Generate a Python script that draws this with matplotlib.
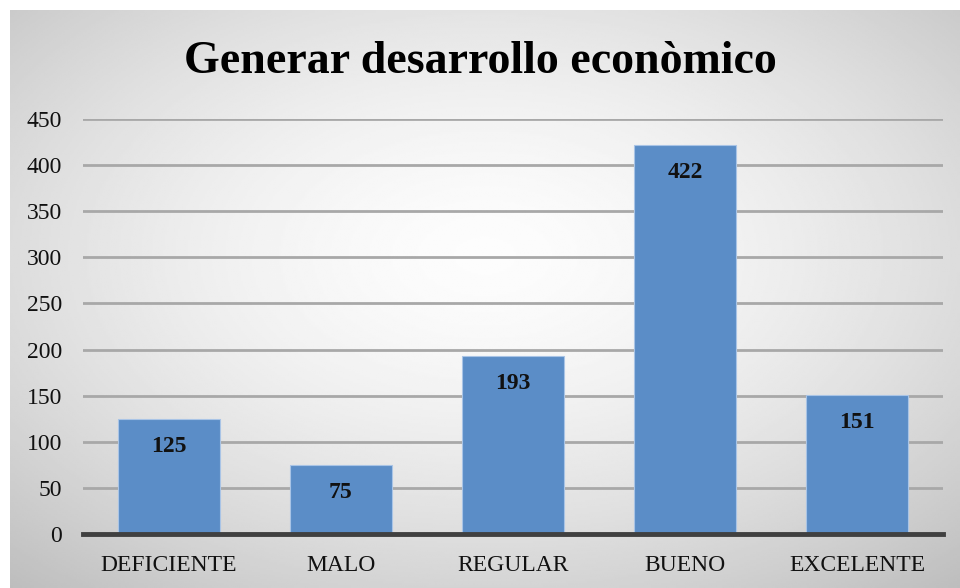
import numpy as np
import matplotlib.pyplot as plt

categorias = ['DEFICIENTE', 'MALO', 'REGULAR', 'BUENO', 'EXCELENTE']
valores = [125, 75, 193, 422, 151]
yticks = [0, 50, 100, 150, 200, 250, 300, 350, 400, 450]
titulo = 'Generar desarrollo econòmico'

plt.rcParams['font.family'] = ['Liberation Serif', 'DejaVu Serif']

fig = plt.figure(figsize=(9.6, 5.88), dpi=100)
fig.patch.set_facecolor('white')

# fondo con degradado radial
bg = fig.add_axes([10 / 960, 0, 950 / 960, 578 / 588], zorder=0)
yy, xx = np.mgrid[-1:1:300j, -1:1:500j]
r = np.sqrt(xx ** 2 + (yy + 0.15) ** 2) / np.sqrt(2)
grad = 0.99 - 0.22 * r ** 1.6
bg.imshow(grad, cmap='gray', vmin=0, vmax=1, aspect='auto', extent=[0, 1, 0, 1])
bg.set_axis_off()

ax = fig.add_axes([83 / 960, 1 - 534 / 588, 860 / 960, 415 / 588], zorder=1)
ax.patch.set_alpha(0)
x = np.arange(len(categorias))
ax.bar(x, valores, width=0.59, color='#5b8dc7', edgecolor='#a9c4e6', linewidth=0.8, zorder=3)
for xi, v in zip(x, valores):
    ax.annotate(str(v), (xi, v), xytext=(0, -20), textcoords='offset points',
                ha='center', va='center', fontsize=17, fontweight='bold', color='#111111')

ax.set_xlim(-0.5, len(categorias) - 0.5)
ax.set_ylim(0, 450)
ax.set_yticks(yticks)
ax.set_xticks(x)
ax.set_xticklabels(categorias)
ax.tick_params(axis='both', length=0, labelsize=17, colors='#111111')
ax.tick_params(axis='y', pad=15)
ax.tick_params(axis='x', pad=15)
ax.yaxis.grid(True, color='#a8a8a8', linewidth=2, zorder=1)
ax.set_axisbelow(True)
for s in ['top', 'right', 'left']:
    ax.spines[s].set_visible(False)
ax.spines['bottom'].set_color('#404040')
ax.spines['bottom'].set_linewidth(3.5)
ax.spines['bottom'].set_zorder(4)

fig.text(0.5, 1 - 62 / 588, titulo, ha='center', va='center', fontsize=33,
         fontweight='bold', color='black')

fig.savefig('out.png', dpi=100)
